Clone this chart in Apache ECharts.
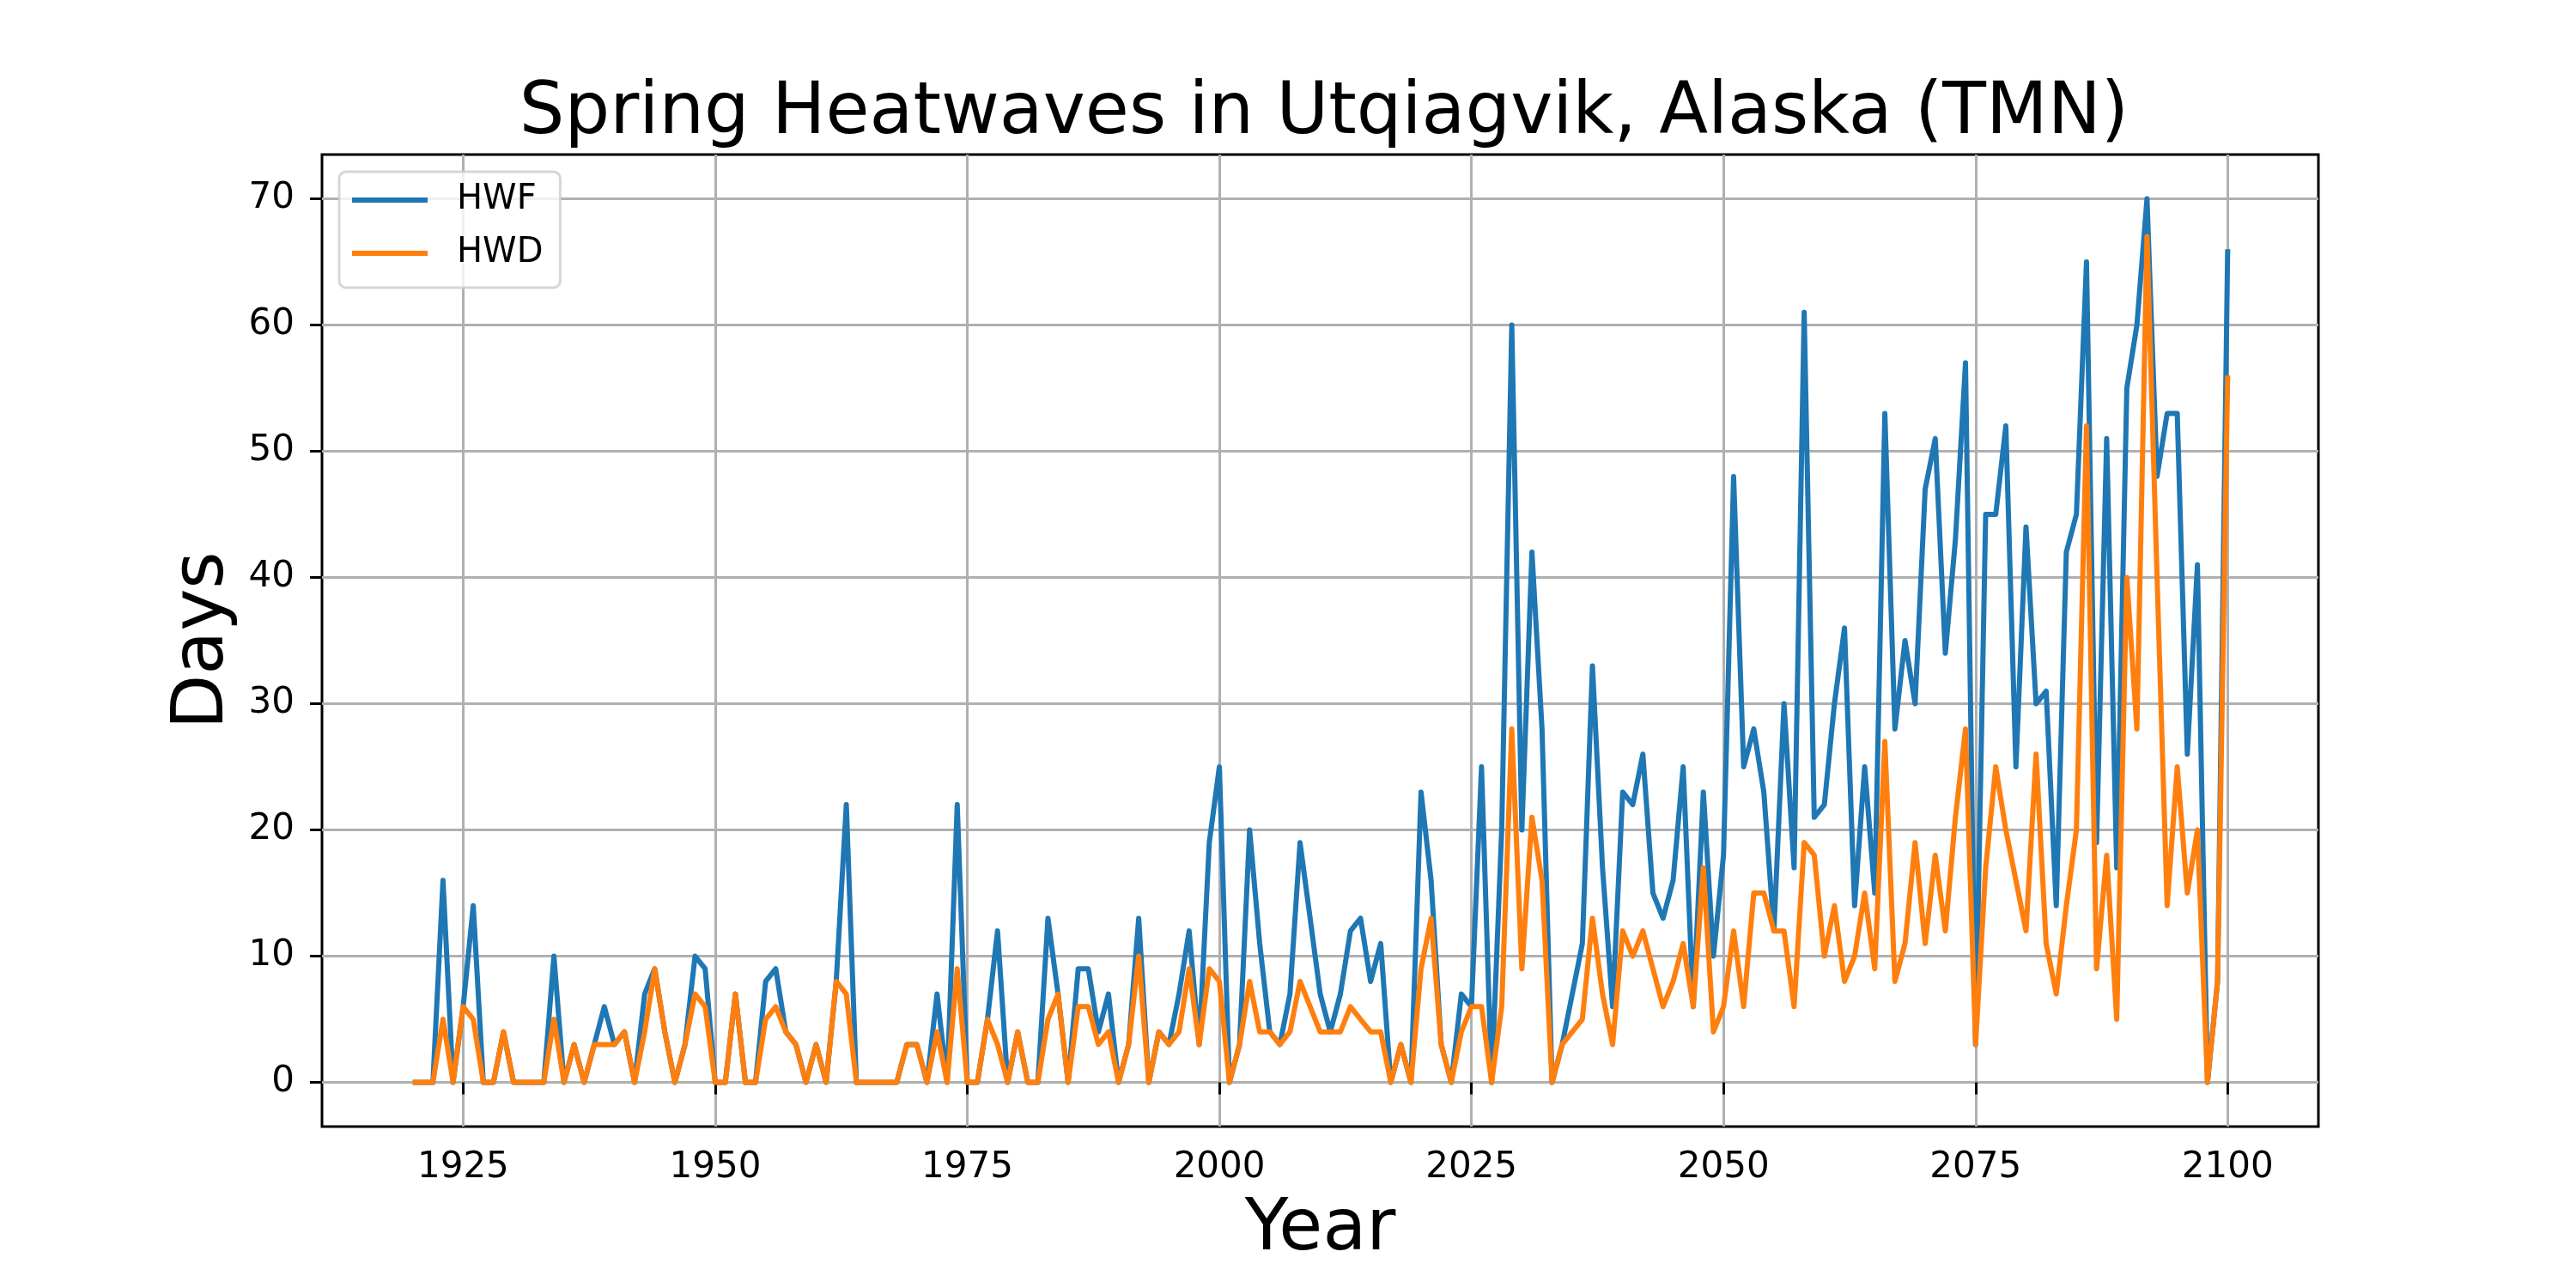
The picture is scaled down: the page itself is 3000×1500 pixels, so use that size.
<!DOCTYPE html>
<html>
<head>
<meta charset="UTF-8">
<title>Spring Heatwaves in Utqiagvik, Alaska (TMN)</title>
<script type="text/javascript" src="https://cdn.jsdelivr.net/npm/echarts@6/dist/echarts.min.js"></script>
<style>
  html, body { margin: 0; padding: 0; background: #fff; }
  #main { width: 3000px; height: 1500px; }
</style>
</head>
<body>
<div id="main"></div>
<script type="text/javascript">
// years 1920..2100
var firstYear = 1920, lastYear = 2100;
var years = [];
for (var y = firstYear; y <= lastYear; y++) years.push(y);

// heatwave frequency (days)
var hwf = [
  0, 0, 0, 16, 0, 6, 14, 0, 0, 4,          // 1920-1929
  0, 0, 0, 0, 10, 0, 3, 0, 3, 6,           // 1930-1939
  3, 4, 0, 7, 9, 4, 0, 3, 10, 9,           // 1940-1949
  0, 0, 7, 0, 0, 8, 9, 4, 3, 0,            // 1950-1959
  3, 0, 8, 22, 0, 0, 0, 0, 0, 3,           // 1960-1969
  3, 0, 7, 0, 22, 0, 0, 5, 12, 0,          // 1970-1979
  4, 0, 0, 13, 7, 0, 9, 9, 4, 7,           // 1980-1989
  0, 3, 13, 0, 4, 3, 7, 12, 3, 19,         // 1990-1999
  25, 0, 3, 20, 11, 4, 3, 7, 19, 13,       // 2000-2009
  7, 4, 7, 12, 13, 8, 11, 0, 3, 0,         // 2010-2019
  23, 16, 3, 0, 7, 6, 25, 0, 20, 60,       // 2020-2029
  20, 42, 28, 0, 3, 7, 11, 33, 17, 6,      // 2030-2039
  23, 22, 26, 15, 13, 16, 25, 6, 23, 10,   // 2040-2049
  18, 48, 25, 28, 23, 12, 30, 17, 61, 21,  // 2050-2059
  22, 30, 36, 14, 25, 15, 53, 28, 35, 30,  // 2060-2069
  47, 51, 34, 43, 57, 3, 45, 45, 52, 25,   // 2070-2079
  44, 30, 31, 14, 42, 45, 65, 19, 51, 17,  // 2080-2089
  55, 60, 70, 48, 53, 53, 26, 41, 0, 8,    // 2090-2099
  66                                       // 2100
];

// heatwave duration (days)
var hwd = [
  0, 0, 0, 5, 0, 6, 5, 0, 0, 4,            // 1920-1929
  0, 0, 0, 0, 5, 0, 3, 0, 3, 3,            // 1930-1939
  3, 4, 0, 4, 9, 4, 0, 3, 7, 6,            // 1940-1949
  0, 0, 7, 0, 0, 5, 6, 4, 3, 0,            // 1950-1959
  3, 0, 8, 7, 0, 0, 0, 0, 0, 3,            // 1960-1969
  3, 0, 4, 0, 9, 0, 0, 5, 3, 0,            // 1970-1979
  4, 0, 0, 5, 7, 0, 6, 6, 3, 4,            // 1980-1989
  0, 3, 10, 0, 4, 3, 4, 9, 3, 9,           // 1990-1999
  8, 0, 3, 8, 4, 4, 3, 4, 8, 6,            // 2000-2009
  4, 4, 4, 6, 5, 4, 4, 0, 3, 0,            // 2010-2019
  9, 13, 3, 0, 4, 6, 6, 0, 6, 28,          // 2020-2029
  9, 21, 16, 0, 3, 4, 5, 13, 7, 3,         // 2030-2039
  12, 10, 12, 9, 6, 8, 11, 6, 17, 4,       // 2040-2049
  6, 12, 6, 15, 15, 12, 12, 6, 19, 18,     // 2050-2059
  10, 14, 8, 10, 15, 9, 27, 8, 11, 19,     // 2060-2069
  11, 18, 12, 21, 28, 3, 17, 25, 20, 16,   // 2070-2079
  12, 26, 11, 7, 14, 20, 52, 9, 18, 5,     // 2080-2089
  40, 28, 67, 40, 14, 25, 15, 20, 0, 8,    // 2090-2099
  56                                       // 2100
];

var xTicks = [1925, 1950, 1975, 2000, 2025, 2050, 2075, 2100];
var yTicks = [0, 10, 20, 30, 40, 50, 60, 70];

function pairs(vals) {
  var out = [];
  for (var i = 0; i < years.length; i++) out.push([years[i], vals[i]]);
  return out;
}

var font = 'DejaVu Sans';
var myChart = echarts.init(document.getElementById('main'), null, {renderer: 'canvas'});
var option = {
  animation: false,
  backgroundColor: '#ffffff',
  textStyle: { fontFamily: font },
  title: {
    text: 'Spring Heatwaves in Utqiagvik, Alaska (TMN)',
    left: 1537,
    top: 87,
    textAlign: 'center',
    textStyle: { fontFamily: font, fontSize: 83, fontWeight: 'normal', color: '#000' }
  },
  legend: {
    left: 395,
    top: 200,
    orient: 'vertical',
    itemWidth: 88,
    itemHeight: 6,
    itemGap: 22,
    padding: [13, 20, 20, 15],
    backgroundColor: 'rgba(255,255,255,0.8)',
    borderColor: 'rgba(204,204,204,0.8)',
    borderWidth: 3,
    borderRadius: 8,
    icon: 'rect',
    textStyle: { fontFamily: font, fontSize: 40, lineHeight: 40, color: '#000', padding: [0, 0, 0, 29] },
    data: ['HWF', 'HWD']
  },
  grid: {
    left: 375,
    right: 300,
    top: 180,
    bottom: 188,
    containLabel: false,
    show: true,
    borderColor: '#000',
    borderWidth: 3,
    backgroundColor: 'transparent'
  },
  xAxis: {
    type: 'value',
    min: 1911,
    max: 2109,
    name: 'Year',
    nameLocation: 'middle',
    nameGap: 80,
    nameTextStyle: { fontFamily: font, fontSize: 83, color: '#000' },
    axisLine: { show: false },
    axisTick: { show: true, customValues: xTicks, length: 14, lineStyle: { color: '#000', width: 3 } },
    axisLabel: { customValues: xTicks, margin: 27, fontFamily: font, fontSize: 42, color: '#000',
      formatter: function (v) { return String(v); } },
    splitLine: { show: true, lineStyle: { color: '#b0b0b0', width: 3 } }
  },
  yAxis: {
    type: 'value',
    min: -3.5,
    max: 73.5,
    name: 'Days',
    nameLocation: 'middle',
    nameGap: 82,
    nameTextStyle: { fontFamily: font, fontSize: 83, color: '#000' },
    axisLine: { show: false },
    axisTick: { show: true, customValues: yTicks, length: 14, lineStyle: { color: '#000', width: 3 } },
    axisLabel: { customValues: yTicks, margin: 32, fontFamily: font, fontSize: 42, color: '#000' },
    splitLine: { show: true, lineStyle: { color: '#b0b0b0', width: 3 } }
  },
  series: [
    {
      name: 'HWF',
      type: 'line',
      data: pairs(hwf),
      showSymbol: false,
      color: '#1f77b4',
      lineStyle: { color: '#1f77b4', width: 6, join: 'round' }
    },
    {
      name: 'HWD',
      type: 'line',
      data: pairs(hwd),
      showSymbol: false,
      color: '#ff7f0e',
      lineStyle: { color: '#ff7f0e', width: 6, join: 'round' }
    }
  ]
};
myChart.setOption(option);
</script>
</body>
</html>
